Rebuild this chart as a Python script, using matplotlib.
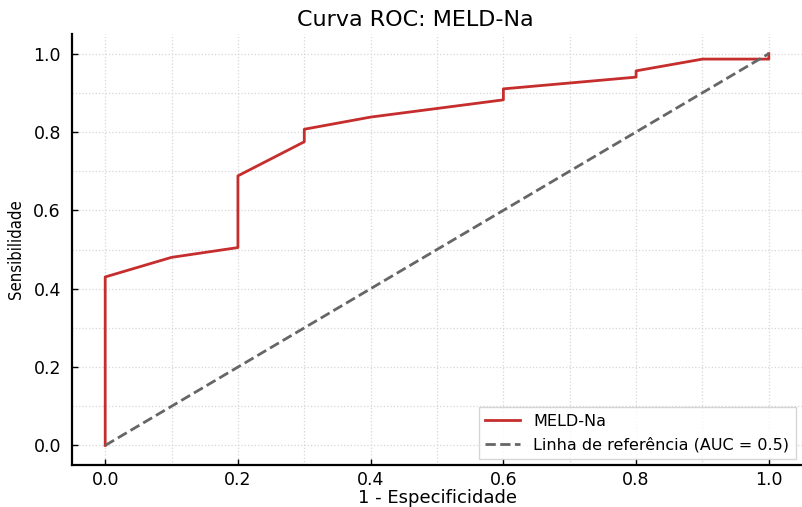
import matplotlib
matplotlib.use("Agg")
import matplotlib.pyplot as plt
from matplotlib.ticker import MultipleLocator

# ROC points
fpr = [0.0, 0.0, 0.1, 0.2, 0.2, 0.3, 0.3, 0.4, 0.6, 0.6, 0.8, 0.8, 0.9, 1.0, 1.0]
tpr = [0.0, 0.43, 0.48, 0.505, 0.688, 0.775, 0.807, 0.838, 0.882, 0.91, 0.94, 0.956, 0.986, 0.986, 1.0]
ref_x = [0.0, 1.0]
ref_y = [0.0, 1.0]
ticks = [0.0, 0.2, 0.4, 0.6, 0.8, 1.0]

plt.rcParams['font.family'] = ['DejaVu Sans']

fig = plt.figure(figsize=(8.02, 5.07), dpi=100)
ax = fig.add_axes([0.0898, 0.0828, 0.9102, 0.8501])

ax.plot(fpr, tpr, color="#c62d2d", lw=2, label="MELD-Na")
ax.plot(ref_x, ref_y, color="#666666", lw=2, linestyle="--", label="Linha de referência (AUC = 0.5)")

ax.set_xlim(-0.05, 1.05)
ax.set_ylim(-0.05, 1.05)
ax.set_xticks(ticks)
ax.set_yticks(ticks)
ax.xaxis.set_minor_locator(MultipleLocator(0.1))
ax.yaxis.set_minor_locator(MultipleLocator(0.1))
ax.tick_params(which="major", direction="in", length=4, width=1, labelsize=12.5)
ax.tick_params(axis="x", which="major", pad=4)
ax.tick_params(axis="y", which="major", pad=8)
ax.tick_params(which="minor", length=0)
ax.grid(True, which="both", color="#d6d6d6", linestyle=":", linewidth=0.9)
ax.set_axisbelow(True)

for s in ["top", "right"]:
    ax.spines[s].set_visible(False)
for s in ["left", "bottom"]:
    ax.spines[s].set_linewidth(1.6)

ax.set_title("Curva ROC: MELD-Na", fontsize=16, x=0.47, pad=6)
ax.set_xlabel("1 - Especificidade", fontsize=13, labelpad=0)
ax.set_ylabel("Sensibilidade", fontsize=12, fontstretch="condensed", labelpad=6)

ax.legend(loc="lower right", fontsize=11.5, frameon=True, fancybox=False,
          edgecolor="#cccccc", borderaxespad=0.4, handlelength=2.2)

fig.savefig("out.png", dpi=100)
